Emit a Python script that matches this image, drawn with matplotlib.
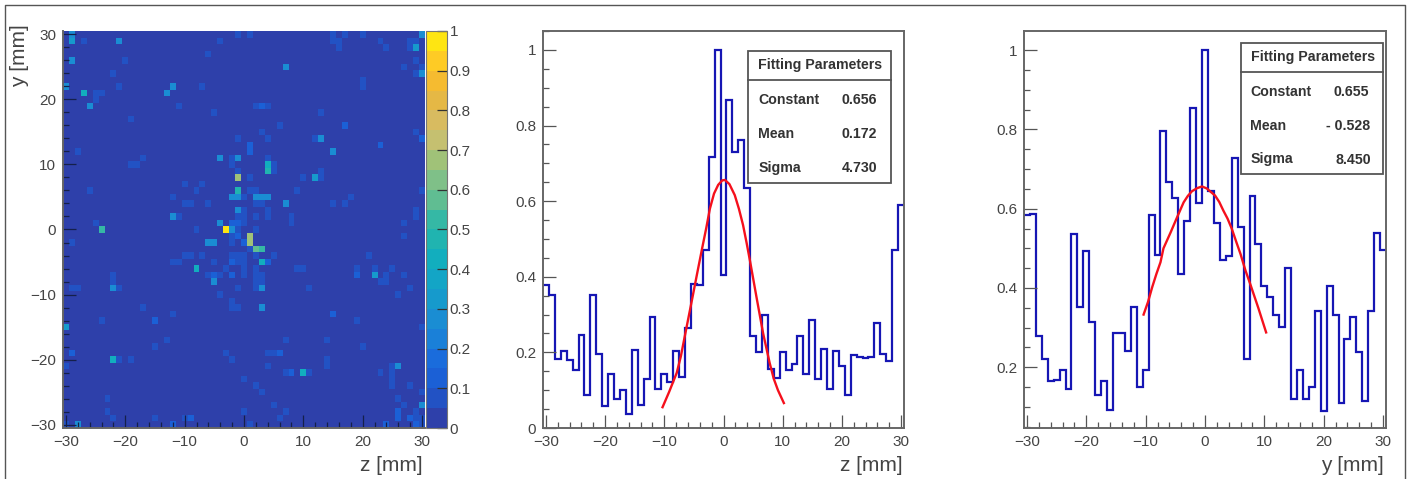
import numpy as np
import matplotlib
matplotlib.use("Agg")
from matplotlib import pyplot as plt
from matplotlib.colors import BoundaryNorm, ListedColormap
from matplotlib.patches import Rectangle
from matplotlib.ticker import FormatStrFormatter, MultipleLocator

W, H = 1410, 479

# bin centres, 1 mm wide
bins = list(range(-30, 31))

hist_z = [.378, .353, .182, .204, .181, .154, .246, .086, .351, .197,
          .057, .142, .078, .100, .036, .206, .061, .130, .294, .103,
          .142, .122, .204, .135, .265, .381, .378, .471, .718, 1.00,
          .405, .868, .730, .763, .635, .243, .200, .300, .155, .132,
          .202, .153, .170, .244, .144, .285, .129, .209, .103, .204,
          .163, .086, .193, .189, .186, .189, .278, .196, .178, .470,
          .590]

hist_y = [.585, .587, .278, .220, .165, .167, .192, .145, .537, .353,
          .494, .315, .130, .165, .092, .286, .286, .242, .353, .150,
          .192, .585, .482, .797, .667, .627, .436, .569, .855, .614,
          1.00, .644, .564, .470, .480, .728, .555, .220, .633, .512,
          .404, .377, .332, .302, .450, .119, .194, .119, .150, .342,
          .091, .404, .333, .111, .272, .327, .239, .114, .342, .539,
          .495]

fit_z_x = [-10.3, -9.2, -7.9, -7.2, -6.5, -5.5, -4.5, -3.6, -2.9, -2.3, -1.6, -0.9, -0.2, 0.25, 1.0,
           1.9, 2.6, 3.3, 3.9, 4.5, 5.6, 6.7, 7.8, 8.5, 9.2, 10.2]
fit_z_v = [.055, .095, .146, .190, .246, .325, .405, .476, .530, .580, .620, .643, .655, .656, .645,
           .616, .580, .537, .490, .440, .344, .250, .172, .130, .100, .066]

fit_y_x = [-10.35, -9.6, -8.9, -8.2, -7.5, -7.0, -5.8, -4.8, -3.6, -2.9, -2.2, -1.3, -0.5, 0.3, 1.7,
           2.4, 3.1, 3.8, 4.5, 5.3, 6.0, 6.8, 7.6, 9.0, 10.3]
fit_y_v = [.333, .365, .402, .435, .465, .500, .540, .575, .616, .632, .644, .652, .656, .651, .633,
           .617, .595, .575, .550, .515, .485, .445, .411, .349, .288]

# non empty cells of the 2D map, row by row
heat_rows = [30, 29, 28, 27, 26, 25, 24, 23, 22, 21, 20, 19, 18, 17, 16, 15, 14, 13, 12, 11,
             10, 9, 8, 7, 6, 5, 4, 3, 2, 1, 0, -1, -2, -3, -4, -5, -6, -7, -8, -9, -10, -11,
             -12, -13, -14, -15, -17, -18, -19, -20, -21, -22, -23, -24, -25, -26, -27, -28,
             -29, -30]
heat_row_z = [
    [-29, -1, 1, 15, 17, 20, 30],
    [-29, -27, -21, -4, 15, 16, 23, 28, 29],
    [16, 24, 28, 29],
    [-6],
    [-29, -20, 29],
    [7, 27, 30],
    [-22, 29, 30],
    [20],
    [-30, -21, -12, -7, 20],
    [-27, -25, -24, -13],
    [-25],
    [-26, -11, 2, 3, 4],
    [-5, 13],
    [-19],
    [6, 17],
    [3, 29],
    [-1, 4, 12, 13, 30],
    [1, 23],
    [-28, 1, 15],
    [-17, -4, -2, -1, 4],
    [-19, -18, -2, 4, 5],
    [-1, 4, 5, 13],
    [-1, 1, 10, 12, 13],
    [-10, -7],
    [-26, -8, -1, 1, 2, 9, 30],
    [-12, -2, -1, 0, 2, 3, 4, 18],
    [-10, -9, -6, 2, 3, 7, 15, 17],
    [-1, 0, 4, 29],
    [-12, -11, -1, 0, 2, 4, 8, 29],
    [-25, -4, -2, -1, 0, 8, 27],
    [-24, -8, -3, -2, -1, 2],
    [-2, -1, 1, 27],
    [-29, -6, -5, -2, 0, 1],
    [1, 2, 3],
    [-10, -9, -7, -2, -1, 0, 2, 5, 21],
    [-12, -11, -5, -2, -1, 0, 3, 4],
    [-8, -3, 0, 2, 9, 10, 19, 22, 25],
    [-22, -6, -5, -4, -2, 0, 2, 3, 19, 22, 24, 27],
    [-22, -5, 2, 3, 23, 24],
    [-29, -28, -22, -21, -1, 2, 3, 11, 28],
    [-4, 26],
    [-2],
    [-17, -2, -1, 3],
    [-12, 15],
    [-24, -15, 19],
    [-30, 30],
    [-13, 7, 14],
    [-15, 20],
    [-29, -3, 4, 5, 6],
    [-22, -21, -19, -2, 14],
    [-30, 4, 14, 25, 26],
    [7, 8, 10, 11, 23, 25],
    [0, 25],
    [2, 25, 28],
    [3, 30],
    [-23, 26],
    [5, 27, 30],
    [-23, 0, 7, 26, 29],
    [-22, -15, -10, -9, 6, 26, 28, 29, 30],
    [-30, -28, -12, 1, 24, 29, 30],
]
heat_row_v = [
    [.25, .08, .08, .08, .08, .08, .25],
    [.35, .08, .25, .08, .08, .08, .08, .08, .08],
    [.08, .08, .08, .35],
    [.08],
    [.25, .08, .08],
    [.3, .08, .08],
    [.08, .08, .25],
    [.08],
    [.25, .08, .25, .08, .08],
    [.4, .08, .08, .25],
    [.08],
    [.3, .08, .08, .15, .08],
    [.08, .08],
    [.08],
    [.08, .15],
    [.08, .08],
    [.08, .08, .08, .3, .15],
    [.15, .15],
    [.08, .15, .25],
    [.08, .25, .08, .3, .08],
    [.08, .08, .08, .4, .08],
    [.08, .45, .08, .08],
    [.7, .08, .08, .35, .08],
    [.08, .08],
    [.08, .08, .45, .08, .08, .08, .08],
    [.08, .25, .25, .08, .25, .25, .25, .08],
    [.08, .08, .08, .08, .08, .25, .08, .08],
    [.25, .08, .08, .08],
    [.3, .08, .08, .08, .08, .08, .08, .08],
    [.08, .25, .15, .15, .08, .08, .08],
    [.5, .08, 1.0, .25, .08, .08],
    [.08, .15, .7, .08],
    [.08, .25, .25, .08, .15, .7],
    [.08, .55, .5],
    [.08, .08, .08, .08, .08, .08, .08, .08, .08],
    [.08, .08, .08, .15, .08, .08, .4, .15],
    [.4, .08, .08, .08, .08, .08, .08, .08, .08],
    [.08, .08, .15, .08, .15, .08, .08, .08, .15, .35, .08, .08],
    [.08, .25, .08, .08, .08, .08],
    [.08, .08, .25, .08, .08, .08, .3, .08, .08],
    [.08, .08],
    [.08],
    [.08, .08, .08, .25],
    [.08, .15],
    [.08, .15, .08],
    [.35, .08],
    [.08, .08, .08],
    [.08, .08],
    [.15, .08, .08, .08, .15],
    [.4, .08, .08, .08, .08],
    [.08, .08, .08, .08, .25],
    [.08, .15, .4, .08, .08, .08],
    [.08, .08],
    [.08, .08, .08],
    [.08, .08],
    [.08, .08],
    [.08, .08, .25],
    [.08, .08, .08, .15, .08],
    [.08, .08, .08, .15, .08, .15, .15, .08, .08],
    [.08, .3, .15, .08, .15, .15, .08],
]

palette = ["#2e40aa", "#2252c4", "#1b60d6", "#1a6cdc", "#1a80d8", "#1a8dd3", "#169acc", "#13a5c6",
           "#12aebe", "#20b4b0", "#35b8a5", "#60bd92", "#7fc088", "#a0c278", "#c5c070", "#d8bb60",
           "#e5b845", "#f5bb30", "#fecb25", "#fee512"]

colorbar_ticks = np.arange(0, 1.01, 0.1)
hist_yticks = [0, 0.2, 0.4, 0.6, 0.8, 1.0]

plt.rcParams["font.family"] = ["Liberation Sans", "DejaVu Sans"]
plt.rcParams["text.color"] = "#3a3a3a"
plt.rcParams["xtick.labelcolor"] = "#444444"
plt.rcParams["ytick.labelcolor"] = "#444444"
plt.rcParams["xtick.labelsize"] = 11
plt.rcParams["ytick.labelsize"] = 11

fig = plt.figure(figsize=(W / 100, H / 100), dpi=100)


def px_axes(left, top, right, bottom):
    return fig.add_axes([left / W, 1 - bottom / H, (right - left) / W, (bottom - top) / H])


def fx(px):
    return px / W


def fy(px):
    return 1 - px / H


def style_axis(ax, ymajor, yminor, color):
    ax.set_xlim(-30.5, 30.5)
    ax.set_xticks([-30, -20, -10, 0, 10, 20, 30])
    ax.xaxis.set_minor_locator(MultipleLocator(2))
    ax.yaxis.set_major_locator(MultipleLocator(ymajor))
    ax.yaxis.set_minor_locator(MultipleLocator(yminor))
    ax.tick_params(which="major", direction="in", length=9.5, width=0.9, color=color, pad=5)
    ax.tick_params(which="minor", direction="in", length=4.5, width=0.9, color=color)
    for spine in ax.spines.values():
        spine.set_color("#666666")
        spine.set_linewidth(1.4)


# 2D map
ax1 = px_axes(63, 31, 425, 428)
grid = np.zeros((len(bins), len(bins)))
for row, zs, vs in zip(heat_rows, heat_row_z, heat_row_v):
    for z, v in zip(zs, vs):
        grid[row + 30, z + 30] = v
edges = np.arange(-30.5, 31.5)
cmap = ListedColormap(palette)
norm = BoundaryNorm(np.linspace(0, 1, len(palette) + 1), cmap.N)
mesh = ax1.pcolormesh(edges, edges, grid, cmap=cmap, norm=norm, rasterized=True)
ax1.set_ylim(-30.5, 30.5)
style_axis(ax1, 10, 2, "#15204a")
ax1.set_yticks([-30, -20, -10, 0, 10, 20, 30])
ax1.spines["top"].set_visible(False)
ax1.spines["right"].set_visible(False)

cax = px_axes(426, 31, 447, 428)
cb = fig.colorbar(mesh, cax=cax, spacing="proportional", drawedges=False)
cb.set_ticks(colorbar_ticks)
cb.ax.yaxis.set_major_formatter(FormatStrFormatter("%g"))
cb.ax.minorticks_off()
cb.ax.tick_params(direction="in", length=7, width=0.9, color="#333333", pad=2, right=True)
cb.outline.set_edgecolor("#777777")
cb.outline.set_linewidth(0.8)

fig.text(fx(423), fy(471), "z [mm]", ha="right", va="baseline", fontsize=15, color="#444444")
fig.text(fx(20), fy(56), "y [mm]", ha="center", va="center", rotation=90, fontsize=15, color="#444444")


def draw_hist(ax, values, fit_x, fit_v, ylim):
    ax.stairs(values, edges, baseline=None, color="#1616b4", linewidth=1.6)
    ax.plot(fit_x, fit_v, color="#f5101c", linewidth=1.7)
    ax.set_ylim(*ylim)
    style_axis(ax, 0.2, 0.05, "#555555")
    ax.set_yticks(hist_yticks[1:] if ylim[0] > 0 else hist_yticks)
    ax.yaxis.set_major_formatter(FormatStrFormatter("%g"))


ax2 = px_axes(543, 31, 904, 428)
draw_hist(ax2, hist_z, fit_z_x, fit_z_v, (0, 1.05))
ax3 = px_axes(1024, 31, 1386, 428)
draw_hist(ax3, hist_y, fit_y_x, fit_y_v, (0.047, 1.048))

fig.text(fx(903), fy(471), "z [mm]", ha="right", va="baseline", fontsize=15, color="#444444")
fig.text(fx(1384), fy(471), "y [mm]", ha="right", va="baseline", fontsize=15, color="#444444")


def param_box(left, top, right, bottom, divider, title_y, rows):
    fig.add_artist(Rectangle((fx(left), fy(bottom)), (right - left) / W, (bottom - top) / H,
                             transform=fig.transFigure, facecolor="white", edgecolor="#555555",
                             linewidth=1.3, zorder=5))
    fig.add_artist(plt.Line2D([fx(left), fx(right)], [fy(divider), fy(divider)],
                              color="#555555", linewidth=1.3, zorder=6))
    text_style = dict(fontsize=10.2, fontweight="bold", color="#333333", va="center", zorder=7)
    fig.text(fx(left + 10), fy(title_y), "Fitting Parameters", **text_style)
    for name, name_x, value, value_x, row_y in rows:
        fig.text(fx(name_x), fy(row_y), name, **text_style)
        fig.text(fx(value_x), fy(row_y), value, **text_style)


param_box(748, 51, 891, 183, 80, 65.5, [
    ("Constant", 758, "0.656", 842, 100),
    ("Mean", 758, "0.172", 842, 134),
    ("Sigma", 759, "4.730", 842, 168),
])
param_box(1241, 43, 1383, 174, 72, 57.5, [
    ("Constant", 1250, "0.655", 1333, 91.5),
    ("Mean", 1250, "- 0.528", 1326, 125.5),
    ("Sigma", 1251, "8.450", 1335, 159.5),
])

# thin frame around the whole picture
frame_x = [fx(5), fx(5), fx(1405), fx(1405)]
frame_y = [0, fy(5), fy(5), 0]
fig.add_artist(plt.Line2D(frame_x, frame_y, color="#555555", linewidth=1.0))

fig.savefig("out.png", dpi=100)
